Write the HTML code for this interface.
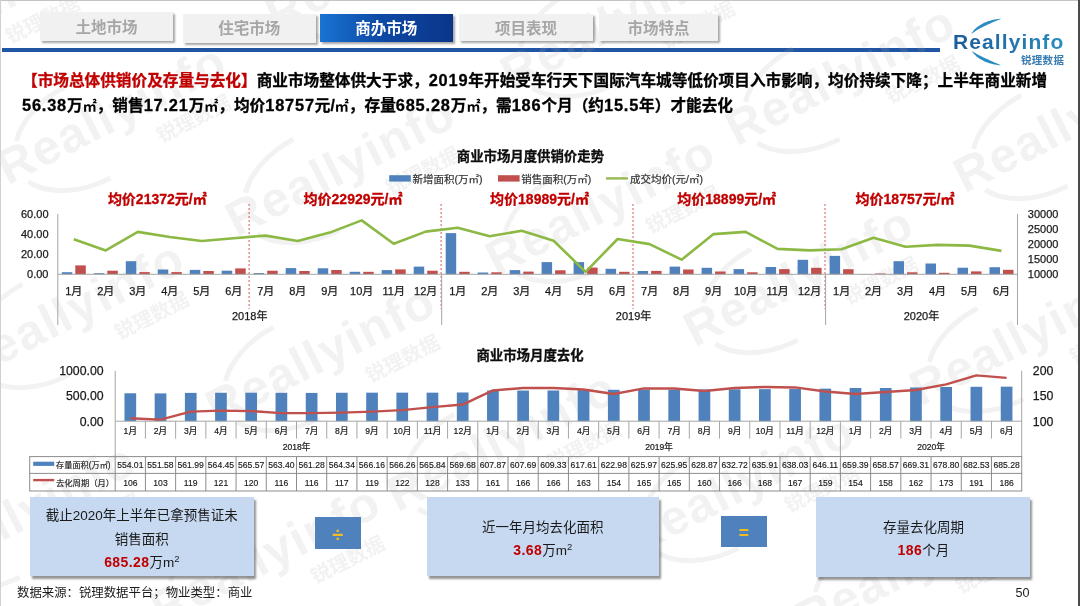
<!DOCTYPE html>
<html lang="zh-CN"><head><meta charset="utf-8"><title>商办市场</title>
<style>
*{margin:0;padding:0;box-sizing:border-box}
html,body{width:1080px;height:606px;overflow:hidden;background:#fff}
body{position:relative;font-family:"Liberation Sans","Noto Sans CJK SC",sans-serif;color:#000}
.abs{position:absolute}
.frame-t{position:absolute;left:0;top:0;width:1080px;height:1px;background:#c4c4c4}
.frame-l{position:absolute;left:0;top:0;width:1px;height:606px;background:#d0d0d0}
.frame-r{position:absolute;left:1078px;top:0;width:2px;height:606px;background:#4a4a4a}
.tab{position:absolute;top:14px;height:27px;background:#f1f1f1;color:#a6a6a6;font-weight:bold;font-size:15.5px;line-height:27px;padding-top:1px;text-align:center;box-shadow:2px 2px 2px rgba(0,0,0,.35)}
.tab.on{background:linear-gradient(90deg,#1a73d2 0%,#0d4aa6 45%,#0a3588 100%);color:#fff}
.bar{position:absolute;left:2px;top:48px;width:938px;height:4px;background:#1f55a3}
.head{position:absolute;left:22px;top:68px;width:1050px;white-space:nowrap;font-size:15.65px;font-weight:bold;line-height:24.2px;color:#000;-webkit-text-stroke:0.3px currentColor}
.head .n{font-size:16.4px;letter-spacing:0.8px}
.head .m{font-size:14px;font-weight:bold;letter-spacing:0px;-webkit-text-stroke:0px}
.head .r{color:#c00000}
.box{position:absolute;background:#c6d9f1;box-shadow:2px 2.5px 2px rgba(0,0,0,.42);text-align:center;font-size:13.5px;color:#1a1a1a;line-height:24px}
.ln{position:absolute;left:0;right:0;height:20px;line-height:20px;white-space:nowrap}
.sp{font-size:9.5px;position:relative;top:-5px}
.box b{color:#c00000;font-size:14px;letter-spacing:0.4px}
.op{position:absolute;background:#4f81bd;color:#efbd22;text-align:center;font-size:18px;font-weight:bold;line-height:31px}
.src{position:absolute;left:17px;top:583px;font-size:12.4px;color:#1a1a1a;white-space:nowrap}
.pg{position:absolute;left:1015.5px;top:586px;font-size:12.6px;color:#1a1a1a}
svg text{font-family:"Liberation Sans","Noto Sans CJK SC",sans-serif}
.ct{font-size:13.4px;font-weight:bold;fill:#0d0d0d;stroke:#0d0d0d;stroke-width:0.3px}
.lg{font-size:10.5px;fill:#333;stroke:#333;stroke-width:0.2px}
.avg{font-size:14px;font-weight:bold;fill:#c00000;stroke:#c00000;stroke-width:0.3px}
.ax{font-size:11px;fill:#1a1a1a;stroke:#1a1a1a;stroke-width:0.25px}
.ax2{font-size:12.3px;fill:#1a1a1a;stroke:#1a1a1a;stroke-width:0.25px}
.sm{font-size:8.6px;fill:#1a1a1a;stroke:#1a1a1a;stroke-width:0.2px}
.tb{font-size:8.6px;fill:#1a1a1a;stroke:#1a1a1a;stroke-width:0.15px}
.wm1{font-size:49px;letter-spacing:1.6px;font-weight:bold;fill:rgba(170,170,170,0.155);font-family:'Liberation Sans',sans-serif}
.wm2{font-size:20px;font-weight:bold;fill:rgba(170,170,170,0.155)}
.wma{fill:none;stroke:rgba(170,170,170,0.155);stroke-width:5}
</style></head><body>
<div class="bar"></div>
<svg class="abs" style="left:0;top:0" width="1080" height="606">
<g transform="translate(276.8,32.6) rotate(-27)"><text x="0" y="0" class="wm1">Reallyinfo</text><text x="156" y="32" class="wm2">锐理数据</text><path d="M28,-36 A80,52 0 0 1 95,-62" class="wma"/><path d="M20,6 A80,52 0 0 0 95,40" class="wma"/></g>
<g transform="translate(511.8,91.6) rotate(-27)"><text x="0" y="0" class="wm1">Reallyinfo</text><text x="156" y="32" class="wm2">锐理数据</text><path d="M28,-36 A80,52 0 0 1 95,-62" class="wma"/><path d="M20,6 A80,52 0 0 0 95,40" class="wma"/></g>
<g transform="translate(736.8,146.6) rotate(-27)"><text x="0" y="0" class="wm1">Reallyinfo</text><text x="156" y="32" class="wm2">锐理数据</text><path d="M28,-36 A80,52 0 0 1 95,-62" class="wma"/><path d="M20,6 A80,52 0 0 0 95,40" class="wma"/></g>
<g transform="translate(964.8,193.6) rotate(-27)"><text x="0" y="0" class="wm1">Reallyinfo</text><text x="156" y="32" class="wm2">锐理数据</text><path d="M28,-36 A80,52 0 0 1 95,-62" class="wma"/><path d="M20,6 A80,52 0 0 0 95,40" class="wma"/></g>
<g transform="translate(-143.2,86.6) rotate(-27)"><text x="0" y="0" class="wm1">Reallyinfo</text><text x="156" y="32" class="wm2">锐理数据</text><path d="M28,-36 A80,52 0 0 1 95,-62" class="wma"/><path d="M20,6 A80,52 0 0 0 95,40" class="wma"/></g>
<g transform="translate(7.8,185.6) rotate(-27)"><text x="0" y="0" class="wm1">Reallyinfo</text><text x="156" y="32" class="wm2">锐理数据</text><path d="M28,-36 A80,52 0 0 1 95,-62" class="wma"/><path d="M20,6 A80,52 0 0 0 95,40" class="wma"/></g>
<g transform="translate(236.8,237.6) rotate(-27)"><text x="0" y="0" class="wm1">Reallyinfo</text><text x="156" y="32" class="wm2">锐理数据</text><path d="M28,-36 A80,52 0 0 1 95,-62" class="wma"/><path d="M20,6 A80,52 0 0 0 95,40" class="wma"/></g>
<g transform="translate(496.8,276.6) rotate(-27)"><text x="0" y="0" class="wm1">Reallyinfo</text><text x="156" y="32" class="wm2">锐理数据</text><path d="M28,-36 A80,52 0 0 1 95,-62" class="wma"/><path d="M20,6 A80,52 0 0 0 95,40" class="wma"/></g>
<g transform="translate(694.8,347.6) rotate(-27)"><text x="0" y="0" class="wm1">Reallyinfo</text><text x="156" y="32" class="wm2">锐理数据</text><path d="M28,-36 A80,52 0 0 1 95,-62" class="wma"/><path d="M20,6 A80,52 0 0 0 95,40" class="wma"/></g>
<g transform="translate(920.8,406.6) rotate(-27)"><text x="0" y="0" class="wm1">Reallyinfo</text><text x="156" y="32" class="wm2">锐理数据</text><path d="M28,-36 A80,52 0 0 1 95,-62" class="wma"/><path d="M20,6 A80,52 0 0 0 95,40" class="wma"/></g>
<g transform="translate(-34.2,382.6) rotate(-27)"><text x="0" y="0" class="wm1">Reallyinfo</text><text x="156" y="32" class="wm2">锐理数据</text><path d="M28,-36 A80,52 0 0 1 95,-62" class="wma"/><path d="M20,6 A80,52 0 0 0 95,40" class="wma"/></g>
<g transform="translate(216.8,425.6) rotate(-27)"><text x="0" y="0" class="wm1">Reallyinfo</text><text x="156" y="32" class="wm2">锐理数据</text><path d="M28,-36 A80,52 0 0 1 95,-62" class="wma"/><path d="M20,6 A80,52 0 0 0 95,40" class="wma"/></g>
<g transform="translate(397.8,512.6) rotate(-27)"><text x="0" y="0" class="wm1">Reallyinfo</text><text x="156" y="32" class="wm2">锐理数据</text><path d="M28,-36 A80,52 0 0 1 95,-62" class="wma"/><path d="M20,6 A80,52 0 0 0 95,40" class="wma"/></g>
<g transform="translate(635.8,555.6) rotate(-27)"><text x="0" y="0" class="wm1">Reallyinfo</text><text x="156" y="32" class="wm2">锐理数据</text><path d="M28,-36 A80,52 0 0 1 95,-62" class="wma"/><path d="M20,6 A80,52 0 0 0 95,40" class="wma"/></g>
<g transform="translate(806.8,636.6) rotate(-27)"><text x="0" y="0" class="wm1">Reallyinfo</text><text x="156" y="32" class="wm2">锐理数据</text><path d="M28,-36 A80,52 0 0 1 95,-62" class="wma"/><path d="M20,6 A80,52 0 0 0 95,40" class="wma"/></g>
<g transform="translate(-83.2,584.6) rotate(-27)"><text x="0" y="0" class="wm1">Reallyinfo</text><text x="156" y="32" class="wm2">锐理数据</text><path d="M28,-36 A80,52 0 0 1 95,-62" class="wma"/><path d="M20,6 A80,52 0 0 0 95,40" class="wma"/></g>
<g transform="translate(161.8,626.6) rotate(-27)"><text x="0" y="0" class="wm1">Reallyinfo</text><text x="156" y="32" class="wm2">锐理数据</text><path d="M28,-36 A80,52 0 0 1 95,-62" class="wma"/><path d="M20,6 A80,52 0 0 0 95,40" class="wma"/></g>
</svg>
<div class="frame-t"></div><div class="frame-l"></div><div class="frame-r"></div>
<div class="tab" style="left:40px;width:133px;top:12px;height:29px;line-height:30px">土地市场</div>
<div class="tab" style="left:182.5px;width:133.5px;top:14px;height:29px;line-height:28px">住宅市场</div>
<div class="tab on" style="left:320px;width:132.5px;top:14px;height:28px;line-height:28px">商办市场</div>
<div class="tab" style="left:459px;width:134px">项目表现</div>
<div class="tab" style="left:599px;width:119px">市场特点</div>
<div class="abs" style="left:953px;top:30px;font-size:21px;line-height:24px;font-weight:bold;letter-spacing:1.1px;font-family:'Liberation Sans',sans-serif;background:linear-gradient(90deg,#1c5c98 0%,#2270ab 45%,#2a8dbf 100%);-webkit-background-clip:text;background-clip:text;color:transparent">Reallyinfo</div>
<div class="abs" style="left:1021px;top:51.5px;font-size:10.5px;font-weight:bold;color:#3a7db3;letter-spacing:0.3px">锐理数据</div>
<svg class="abs" style="left:0;top:0" width="1080" height="80"><path d="M971.17,33.96 L971.78,32.94 L972.46,31.94 L973.21,30.97 L974.03,30.01 L974.92,29.09 L975.88,28.19 L976.89,27.32 L977.97,26.48 L979.10,25.68 L980.30,24.91 L981.54,24.17 L982.84,23.48 L984.18,22.83 L985.57,22.22 L987.00,21.65 L988.47,21.12 L989.98,20.64 L991.51,20.21 L993.08,19.83 L994.68,19.49 L996.29,19.20 L997.93,18.96 L999.58,18.77 L1001.24,18.63 L1001.24,18.63 L999.67,19.39 L998.14,20.02 L996.65,20.64 L995.20,21.25 L993.79,21.86 L992.42,22.46 L991.09,23.06 L989.78,23.66 L988.50,24.25 L987.25,24.84 L986.02,25.42 L984.81,26.00 L983.61,26.59 L982.43,27.17 L981.26,27.76 L980.11,28.36 L978.97,28.98 L977.84,29.61 L976.72,30.27 L975.62,30.95 L974.52,31.66 L973.44,32.41 L972.36,33.19 L971.17,33.96 Z" fill="#2a8cc0"/><path d="M1000.92,65.35 L999.34,65.21 L997.77,65.02 L996.21,64.79 L994.68,64.51 L993.16,64.19 L991.66,63.83 L990.19,63.42 L988.75,62.97 L987.34,62.48 L985.97,61.95 L984.63,61.38 L983.33,60.77 L982.08,60.12 L980.87,59.44 L979.71,58.73 L978.60,57.98 L977.54,57.20 L976.54,56.39 L975.59,55.55 L974.69,54.68 L973.86,53.79 L973.09,52.88 L972.38,51.95 L971.74,50.99 L971.74,50.99 L972.95,51.68 L974.05,52.38 L975.15,53.05 L976.24,53.69 L977.34,54.31 L978.45,54.90 L979.57,55.48 L980.69,56.04 L981.82,56.59 L982.96,57.13 L984.10,57.67 L985.26,58.21 L986.43,58.76 L987.61,59.31 L988.81,59.86 L990.04,60.42 L991.28,61.00 L992.56,61.57 L993.86,62.16 L995.20,62.75 L996.58,63.35 L997.99,63.96 L999.44,64.59 L1000.92,65.35 Z" fill="#2a8cc0"/></svg>
<div class="head"><span class="r">【市场总体供销价及存量与去化】</span>商业市场整体供大于求，<span class="n">2019</span>年开始受车行天下国际汽车城等低价项目入市影响，均价持续下降；上半年商业新增<br><span class="n">56.38</span>万<span class="m">㎡</span>，销售<span class="n">17.21</span>万<span class="m">㎡</span>，均价<span class="n">18757</span>元/<span class="m">㎡</span>，存量<span class="n">685.28</span>万<span class="m">㎡</span>，需<span class="n">186</span>个月（约<span class="n">15.5</span>年）才能去化</div>
<svg class="abs" style="left:0;top:0" width="1080" height="606">
<text x="530.4" y="160.5" class="ct" text-anchor="middle">商业市场月度供销价走势</text>
<rect x="389.2" y="175.2" width="21.6" height="6.4" fill="#4f81bd"/>
<text x="412.5" y="182.5" class="lg">新增面积(万㎡)</text>
<rect x="498" y="175.2" width="21.6" height="6.4" fill="#c0504d"/>
<text x="521.3" y="182.5" class="lg">销售面积(万㎡)</text>
<line x1="606" y1="178.4" x2="628" y2="178.4" stroke="#9bbb59" stroke-width="2.5"/>
<text x="630" y="182.5" class="lg">成交均价(元/㎡)</text>
<text x="157.3" y="203.8" class="avg" text-anchor="middle">均价21372元/㎡</text>
<text x="353" y="203.8" class="avg" text-anchor="middle">均价22929元/㎡</text>
<text x="539.5" y="203.8" class="avg" text-anchor="middle">均价18989元/㎡</text>
<text x="726.7" y="203.8" class="avg" text-anchor="middle">均价18899元/㎡</text>
<text x="905" y="203.8" class="avg" text-anchor="middle">均价18757元/㎡</text>
<line x1="249.1" y1="204" x2="249.1" y2="309" stroke="#d65a5a" stroke-width="1" stroke-dasharray="2,2"/>
<line x1="441.1" y1="204" x2="441.1" y2="309" stroke="#d65a5a" stroke-width="1" stroke-dasharray="2,2"/>
<line x1="633.0" y1="204" x2="633.0" y2="309" stroke="#d65a5a" stroke-width="1" stroke-dasharray="2,2"/>
<line x1="825.0" y1="204" x2="825.0" y2="309" stroke="#d65a5a" stroke-width="1" stroke-dasharray="2,2"/>
<line x1="57.8" y1="214.0" x2="57.8" y2="325" stroke="#a6a6a6" stroke-width="1"/>
<line x1="1017.5" y1="214.0" x2="1017.5" y2="325" stroke="#a6a6a6" stroke-width="1"/>
<line x1="441.7" y1="274.3" x2="441.7" y2="325" stroke="#a6a6a6" stroke-width="1"/>
<line x1="825.6" y1="274.3" x2="825.6" y2="325" stroke="#a6a6a6" stroke-width="1"/>
<rect x="61.8" y="272.2" width="10.5" height="2.1" fill="#4f81bd"/>
<rect x="75.3" y="265.4" width="10.5" height="8.9" fill="#c0504d"/>
<rect x="93.8" y="273.2" width="10.5" height="1.1" fill="#4f81bd"/>
<rect x="107.3" y="270.7" width="10.5" height="3.6" fill="#c0504d"/>
<rect x="125.8" y="261.2" width="10.5" height="13.1" fill="#4f81bd"/>
<rect x="139.3" y="272.1" width="10.5" height="2.2" fill="#c0504d"/>
<rect x="157.8" y="269.5" width="10.5" height="4.8" fill="#4f81bd"/>
<rect x="171.3" y="272.1" width="10.5" height="2.2" fill="#c0504d"/>
<rect x="189.8" y="269.9" width="10.5" height="4.4" fill="#4f81bd"/>
<rect x="203.3" y="271.0" width="10.5" height="3.3" fill="#c0504d"/>
<rect x="221.7" y="270.7" width="10.5" height="3.6" fill="#4f81bd"/>
<rect x="235.2" y="268.4" width="10.5" height="5.9" fill="#c0504d"/>
<rect x="253.7" y="273.1" width="10.5" height="1.2" fill="#4f81bd"/>
<rect x="267.2" y="270.7" width="10.5" height="3.6" fill="#c0504d"/>
<rect x="285.7" y="268.1" width="10.5" height="6.2" fill="#4f81bd"/>
<rect x="299.2" y="271.0" width="10.5" height="3.3" fill="#c0504d"/>
<rect x="317.7" y="268.3" width="10.5" height="6.0" fill="#4f81bd"/>
<rect x="331.2" y="270.0" width="10.5" height="4.3" fill="#c0504d"/>
<rect x="349.7" y="271.8" width="10.5" height="2.5" fill="#4f81bd"/>
<rect x="363.2" y="271.8" width="10.5" height="2.5" fill="#c0504d"/>
<rect x="381.7" y="270.1" width="10.5" height="4.2" fill="#4f81bd"/>
<rect x="395.2" y="269.4" width="10.5" height="4.9" fill="#c0504d"/>
<rect x="413.7" y="266.6" width="10.5" height="7.7" fill="#4f81bd"/>
<rect x="427.2" y="270.7" width="10.5" height="3.6" fill="#c0504d"/>
<rect x="445.7" y="233.1" width="10.5" height="41.2" fill="#4f81bd"/>
<rect x="459.2" y="271.8" width="10.5" height="2.5" fill="#c0504d"/>
<rect x="477.7" y="272.5" width="10.5" height="1.8" fill="#4f81bd"/>
<rect x="491.2" y="272.3" width="10.5" height="2.0" fill="#c0504d"/>
<rect x="509.7" y="270.1" width="10.5" height="4.2" fill="#4f81bd"/>
<rect x="523.2" y="271.6" width="10.5" height="2.7" fill="#c0504d"/>
<rect x="541.6" y="262.1" width="10.5" height="12.2" fill="#4f81bd"/>
<rect x="555.1" y="270.3" width="10.5" height="4.0" fill="#c0504d"/>
<rect x="573.6" y="262.1" width="10.5" height="12.2" fill="#4f81bd"/>
<rect x="587.1" y="267.6" width="10.5" height="6.7" fill="#c0504d"/>
<rect x="605.6" y="268.8" width="10.5" height="5.5" fill="#4f81bd"/>
<rect x="619.1" y="271.8" width="10.5" height="2.5" fill="#c0504d"/>
<rect x="637.6" y="271.0" width="10.5" height="3.3" fill="#4f81bd"/>
<rect x="651.1" y="270.9" width="10.5" height="3.4" fill="#c0504d"/>
<rect x="669.6" y="266.6" width="10.5" height="7.7" fill="#4f81bd"/>
<rect x="683.1" y="269.5" width="10.5" height="4.8" fill="#c0504d"/>
<rect x="701.6" y="267.8" width="10.5" height="6.5" fill="#4f81bd"/>
<rect x="715.1" y="271.5" width="10.5" height="2.8" fill="#c0504d"/>
<rect x="733.6" y="269.1" width="10.5" height="5.2" fill="#4f81bd"/>
<rect x="747.1" y="272.3" width="10.5" height="2.0" fill="#c0504d"/>
<rect x="765.6" y="267.0" width="10.5" height="7.3" fill="#4f81bd"/>
<rect x="779.1" y="269.1" width="10.5" height="5.2" fill="#c0504d"/>
<rect x="797.6" y="259.8" width="10.5" height="14.5" fill="#4f81bd"/>
<rect x="811.1" y="267.8" width="10.5" height="6.5" fill="#c0504d"/>
<rect x="829.6" y="255.9" width="10.5" height="18.4" fill="#4f81bd"/>
<rect x="843.1" y="269.2" width="10.5" height="5.1" fill="#c0504d"/>
<rect x="861.5" y="274.0" width="10.5" height="0.3" fill="#4f81bd"/>
<rect x="875.0" y="273.5" width="10.5" height="0.8" fill="#c0504d"/>
<rect x="893.5" y="261.2" width="10.5" height="13.1" fill="#4f81bd"/>
<rect x="907.0" y="272.3" width="10.5" height="2.0" fill="#c0504d"/>
<rect x="925.5" y="263.5" width="10.5" height="10.8" fill="#4f81bd"/>
<rect x="939.0" y="272.8" width="10.5" height="1.5" fill="#c0504d"/>
<rect x="957.5" y="267.7" width="10.5" height="6.6" fill="#4f81bd"/>
<rect x="971.0" y="271.4" width="10.5" height="2.9" fill="#c0504d"/>
<rect x="989.5" y="267.2" width="10.5" height="7.1" fill="#4f81bd"/>
<rect x="1003.0" y="269.8" width="10.5" height="4.5" fill="#c0504d"/>
<line x1="57.8" y1="274.3" x2="1017.5" y2="274.3" stroke="#a6a6a6" stroke-width="1"/>
<polyline points="73.8,239.3 105.8,250.4 137.8,231.9 169.8,237.0 201.8,241.0 233.7,238.2 265.7,235.6 297.7,241.0 329.7,232.6 361.7,220.4 393.7,243.7 425.7,231.6 457.7,227.7 489.7,236.3 521.7,230.7 553.6,240.7 585.6,271.9 617.6,239.0 649.6,244.1 681.6,259.7 713.6,234.1 745.6,231.9 777.6,248.9 809.6,250.4 841.6,249.3 873.5,237.8 905.5,246.8 937.5,244.9 969.5,245.6 1001.5,250.9" fill="none" stroke="#8cb844" stroke-width="2.6" stroke-linejoin="round"/>
<text x="48.5" y="218.0" class="ax" text-anchor="end">60.00</text>
<text x="48.5" y="238.1" class="ax" text-anchor="end">40.00</text>
<text x="48.5" y="258.2" class="ax" text-anchor="end">20.00</text>
<text x="48.5" y="278.3" class="ax" text-anchor="end">0.00</text>
<text x="1027.8" y="218.0" class="ax">30000</text>
<text x="1027.8" y="233.1" class="ax">25000</text>
<text x="1027.8" y="248.2" class="ax">20000</text>
<text x="1027.8" y="263.2" class="ax">15000</text>
<text x="1027.8" y="278.3" class="ax">10000</text>
<text x="73.8" y="295.2" class="ax" text-anchor="middle">1月</text>
<text x="105.8" y="295.2" class="ax" text-anchor="middle">2月</text>
<text x="137.8" y="295.2" class="ax" text-anchor="middle">3月</text>
<text x="169.8" y="295.2" class="ax" text-anchor="middle">4月</text>
<text x="201.8" y="295.2" class="ax" text-anchor="middle">5月</text>
<text x="233.7" y="295.2" class="ax" text-anchor="middle">6月</text>
<text x="265.7" y="295.2" class="ax" text-anchor="middle">7月</text>
<text x="297.7" y="295.2" class="ax" text-anchor="middle">8月</text>
<text x="329.7" y="295.2" class="ax" text-anchor="middle">9月</text>
<text x="361.7" y="295.2" class="ax" text-anchor="middle">10月</text>
<text x="393.7" y="295.2" class="ax" text-anchor="middle">11月</text>
<text x="425.7" y="295.2" class="ax" text-anchor="middle">12月</text>
<text x="457.7" y="295.2" class="ax" text-anchor="middle">1月</text>
<text x="489.7" y="295.2" class="ax" text-anchor="middle">2月</text>
<text x="521.7" y="295.2" class="ax" text-anchor="middle">3月</text>
<text x="553.6" y="295.2" class="ax" text-anchor="middle">4月</text>
<text x="585.6" y="295.2" class="ax" text-anchor="middle">5月</text>
<text x="617.6" y="295.2" class="ax" text-anchor="middle">6月</text>
<text x="649.6" y="295.2" class="ax" text-anchor="middle">7月</text>
<text x="681.6" y="295.2" class="ax" text-anchor="middle">8月</text>
<text x="713.6" y="295.2" class="ax" text-anchor="middle">9月</text>
<text x="745.6" y="295.2" class="ax" text-anchor="middle">10月</text>
<text x="777.6" y="295.2" class="ax" text-anchor="middle">11月</text>
<text x="809.6" y="295.2" class="ax" text-anchor="middle">12月</text>
<text x="841.6" y="295.2" class="ax" text-anchor="middle">1月</text>
<text x="873.5" y="295.2" class="ax" text-anchor="middle">2月</text>
<text x="905.5" y="295.2" class="ax" text-anchor="middle">3月</text>
<text x="937.5" y="295.2" class="ax" text-anchor="middle">4月</text>
<text x="969.5" y="295.2" class="ax" text-anchor="middle">5月</text>
<text x="1001.5" y="295.2" class="ax" text-anchor="middle">6月</text>
<text x="249.7" y="319.7" class="ax" text-anchor="middle">2018年</text>
<text x="633.6" y="319.7" class="ax" text-anchor="middle">2019年</text>
<text x="921.5" y="319.7" class="ax" text-anchor="middle">2020年</text>
<text x="530" y="360.3" class="ct" text-anchor="middle">商业市场月度去化</text>
<rect x="124.46" y="393.28" width="11.7" height="27.92" fill="#4f81bd"/>
<rect x="154.68" y="393.40" width="11.7" height="27.80" fill="#4f81bd"/>
<rect x="184.89" y="392.88" width="11.7" height="28.32" fill="#4f81bd"/>
<rect x="215.11" y="392.75" width="11.7" height="28.45" fill="#4f81bd"/>
<rect x="245.33" y="392.70" width="11.7" height="28.50" fill="#4f81bd"/>
<rect x="275.54" y="392.80" width="11.7" height="28.40" fill="#4f81bd"/>
<rect x="305.76" y="392.91" width="11.7" height="28.29" fill="#4f81bd"/>
<rect x="335.97" y="392.76" width="11.7" height="28.44" fill="#4f81bd"/>
<rect x="366.19" y="392.67" width="11.7" height="28.53" fill="#4f81bd"/>
<rect x="396.41" y="392.66" width="11.7" height="28.54" fill="#4f81bd"/>
<rect x="426.62" y="392.68" width="11.7" height="28.52" fill="#4f81bd"/>
<rect x="456.84" y="392.49" width="11.7" height="28.71" fill="#4f81bd"/>
<rect x="487.06" y="390.56" width="11.7" height="30.64" fill="#4f81bd"/>
<rect x="517.27" y="390.57" width="11.7" height="30.63" fill="#4f81bd"/>
<rect x="547.49" y="390.49" width="11.7" height="30.71" fill="#4f81bd"/>
<rect x="577.71" y="390.07" width="11.7" height="31.13" fill="#4f81bd"/>
<rect x="607.92" y="389.80" width="11.7" height="31.40" fill="#4f81bd"/>
<rect x="638.14" y="389.65" width="11.7" height="31.55" fill="#4f81bd"/>
<rect x="668.36" y="389.65" width="11.7" height="31.55" fill="#4f81bd"/>
<rect x="698.58" y="389.50" width="11.7" height="31.70" fill="#4f81bd"/>
<rect x="728.79" y="389.31" width="11.7" height="31.89" fill="#4f81bd"/>
<rect x="759.01" y="389.15" width="11.7" height="32.05" fill="#4f81bd"/>
<rect x="789.23" y="389.04" width="11.7" height="32.16" fill="#4f81bd"/>
<rect x="819.44" y="388.64" width="11.7" height="32.56" fill="#4f81bd"/>
<rect x="849.66" y="387.97" width="11.7" height="33.23" fill="#4f81bd"/>
<rect x="879.88" y="388.01" width="11.7" height="33.19" fill="#4f81bd"/>
<rect x="910.09" y="387.47" width="11.7" height="33.73" fill="#4f81bd"/>
<rect x="940.31" y="386.99" width="11.7" height="34.21" fill="#4f81bd"/>
<rect x="970.52" y="386.80" width="11.7" height="34.40" fill="#4f81bd"/>
<rect x="1000.74" y="386.66" width="11.7" height="34.54" fill="#4f81bd"/>
<path d="M130.31,418.18 L160.53,419.69 L190.74,411.62 L220.96,410.62 L251.18,411.12 L281.39,413.14 L311.61,413.14 L341.82,412.63 L372.04,411.62 L402.26,410.11 L432.47,407.09 L462.69,404.57 L492.91,390.46 L523.12,387.94 L553.34,387.94 L583.56,389.45 L613.77,393.98 L643.99,388.44 L674.21,388.44 L704.43,390.96 L734.64,387.94 L764.86,386.93 L795.08,387.43 L825.29,391.46 L855.51,393.98 L885.73,391.97 L915.94,389.95 L946.16,384.41 L976.38,375.34 L1006.59,377.86" fill="none" stroke="#c0504d" stroke-width="2.4" stroke-linejoin="round"/>
<line x1="115.2" y1="421.2" x2="1021.7" y2="421.2" stroke="#a6a6a6" stroke-width="1"/>
<line x1="115.2" y1="370.8" x2="115.2" y2="456.6" stroke="#a6a6a6" stroke-width="1"/>
<line x1="1021.7" y1="370.8" x2="1021.7" y2="456.6" stroke="#a6a6a6" stroke-width="1"/>
<line x1="145.42" y1="421.2" x2="145.42" y2="438.6" stroke="#a6a6a6" stroke-width="1"/>
<line x1="175.63" y1="421.2" x2="175.63" y2="438.6" stroke="#a6a6a6" stroke-width="1"/>
<line x1="205.85" y1="421.2" x2="205.85" y2="438.6" stroke="#a6a6a6" stroke-width="1"/>
<line x1="236.07" y1="421.2" x2="236.07" y2="438.6" stroke="#a6a6a6" stroke-width="1"/>
<line x1="266.28" y1="421.2" x2="266.28" y2="438.6" stroke="#a6a6a6" stroke-width="1"/>
<line x1="296.50" y1="421.2" x2="296.50" y2="438.6" stroke="#a6a6a6" stroke-width="1"/>
<line x1="326.72" y1="421.2" x2="326.72" y2="438.6" stroke="#a6a6a6" stroke-width="1"/>
<line x1="356.93" y1="421.2" x2="356.93" y2="438.6" stroke="#a6a6a6" stroke-width="1"/>
<line x1="387.15" y1="421.2" x2="387.15" y2="438.6" stroke="#a6a6a6" stroke-width="1"/>
<line x1="417.37" y1="421.2" x2="417.37" y2="438.6" stroke="#a6a6a6" stroke-width="1"/>
<line x1="447.58" y1="421.2" x2="447.58" y2="438.6" stroke="#a6a6a6" stroke-width="1"/>
<line x1="477.80" y1="421.2" x2="477.80" y2="456.6" stroke="#a6a6a6" stroke-width="1"/>
<line x1="508.02" y1="421.2" x2="508.02" y2="438.6" stroke="#a6a6a6" stroke-width="1"/>
<line x1="538.23" y1="421.2" x2="538.23" y2="438.6" stroke="#a6a6a6" stroke-width="1"/>
<line x1="568.45" y1="421.2" x2="568.45" y2="438.6" stroke="#a6a6a6" stroke-width="1"/>
<line x1="598.67" y1="421.2" x2="598.67" y2="438.6" stroke="#a6a6a6" stroke-width="1"/>
<line x1="628.88" y1="421.2" x2="628.88" y2="438.6" stroke="#a6a6a6" stroke-width="1"/>
<line x1="659.10" y1="421.2" x2="659.10" y2="438.6" stroke="#a6a6a6" stroke-width="1"/>
<line x1="689.32" y1="421.2" x2="689.32" y2="438.6" stroke="#a6a6a6" stroke-width="1"/>
<line x1="719.53" y1="421.2" x2="719.53" y2="438.6" stroke="#a6a6a6" stroke-width="1"/>
<line x1="749.75" y1="421.2" x2="749.75" y2="438.6" stroke="#a6a6a6" stroke-width="1"/>
<line x1="779.97" y1="421.2" x2="779.97" y2="438.6" stroke="#a6a6a6" stroke-width="1"/>
<line x1="810.18" y1="421.2" x2="810.18" y2="438.6" stroke="#a6a6a6" stroke-width="1"/>
<line x1="840.40" y1="421.2" x2="840.40" y2="456.6" stroke="#a6a6a6" stroke-width="1"/>
<line x1="870.62" y1="421.2" x2="870.62" y2="438.6" stroke="#a6a6a6" stroke-width="1"/>
<line x1="900.83" y1="421.2" x2="900.83" y2="438.6" stroke="#a6a6a6" stroke-width="1"/>
<line x1="931.05" y1="421.2" x2="931.05" y2="438.6" stroke="#a6a6a6" stroke-width="1"/>
<line x1="961.27" y1="421.2" x2="961.27" y2="438.6" stroke="#a6a6a6" stroke-width="1"/>
<line x1="991.48" y1="421.2" x2="991.48" y2="438.6" stroke="#a6a6a6" stroke-width="1"/>
<text x="103.6" y="375.2" class="ax2" text-anchor="end">1000.00</text>
<text x="103.6" y="400.4" class="ax2" text-anchor="end">500.00</text>
<text x="103.6" y="425.6" class="ax2" text-anchor="end">0.00</text>
<text x="1032.8" y="375.2" class="ax2">200</text>
<text x="1032.8" y="400.4" class="ax2">150</text>
<text x="1032.8" y="425.6" class="ax2">100</text>
<text x="130.3" y="433.9" class="sm" text-anchor="middle">1月</text>
<text x="160.5" y="433.9" class="sm" text-anchor="middle">2月</text>
<text x="190.7" y="433.9" class="sm" text-anchor="middle">3月</text>
<text x="221.0" y="433.9" class="sm" text-anchor="middle">4月</text>
<text x="251.2" y="433.9" class="sm" text-anchor="middle">5月</text>
<text x="281.4" y="433.9" class="sm" text-anchor="middle">6月</text>
<text x="311.6" y="433.9" class="sm" text-anchor="middle">7月</text>
<text x="341.8" y="433.9" class="sm" text-anchor="middle">8月</text>
<text x="372.0" y="433.9" class="sm" text-anchor="middle">9月</text>
<text x="402.3" y="433.9" class="sm" text-anchor="middle">10月</text>
<text x="432.5" y="433.9" class="sm" text-anchor="middle">11月</text>
<text x="462.7" y="433.9" class="sm" text-anchor="middle">12月</text>
<text x="492.9" y="433.9" class="sm" text-anchor="middle">1月</text>
<text x="523.1" y="433.9" class="sm" text-anchor="middle">2月</text>
<text x="553.3" y="433.9" class="sm" text-anchor="middle">3月</text>
<text x="583.6" y="433.9" class="sm" text-anchor="middle">4月</text>
<text x="613.8" y="433.9" class="sm" text-anchor="middle">5月</text>
<text x="644.0" y="433.9" class="sm" text-anchor="middle">6月</text>
<text x="674.2" y="433.9" class="sm" text-anchor="middle">7月</text>
<text x="704.4" y="433.9" class="sm" text-anchor="middle">8月</text>
<text x="734.6" y="433.9" class="sm" text-anchor="middle">9月</text>
<text x="764.9" y="433.9" class="sm" text-anchor="middle">10月</text>
<text x="795.1" y="433.9" class="sm" text-anchor="middle">11月</text>
<text x="825.3" y="433.9" class="sm" text-anchor="middle">12月</text>
<text x="855.5" y="433.9" class="sm" text-anchor="middle">1月</text>
<text x="885.7" y="433.9" class="sm" text-anchor="middle">2月</text>
<text x="915.9" y="433.9" class="sm" text-anchor="middle">3月</text>
<text x="946.2" y="433.9" class="sm" text-anchor="middle">4月</text>
<text x="976.4" y="433.9" class="sm" text-anchor="middle">5月</text>
<text x="1006.6" y="433.9" class="sm" text-anchor="middle">6月</text>
<text x="296.5" y="450.3" class="sm" text-anchor="middle">2018年</text>
<text x="659.1" y="450.3" class="sm" text-anchor="middle">2019年</text>
<text x="931.0" y="450.3" class="sm" text-anchor="middle">2020年</text>
<rect x="29.7" y="456.6" width="992.0" height="34.4" fill="none" stroke="#8c8c8c" stroke-width="1"/>
<line x1="29.7" y1="473.4" x2="1021.7" y2="473.4" stroke="#8c8c8c" stroke-width="1"/>
<line x1="115.20" y1="456.6" x2="115.20" y2="491.0" stroke="#8c8c8c" stroke-width="1"/>
<line x1="145.42" y1="456.6" x2="145.42" y2="491.0" stroke="#8c8c8c" stroke-width="1"/>
<line x1="175.63" y1="456.6" x2="175.63" y2="491.0" stroke="#8c8c8c" stroke-width="1"/>
<line x1="205.85" y1="456.6" x2="205.85" y2="491.0" stroke="#8c8c8c" stroke-width="1"/>
<line x1="236.07" y1="456.6" x2="236.07" y2="491.0" stroke="#8c8c8c" stroke-width="1"/>
<line x1="266.28" y1="456.6" x2="266.28" y2="491.0" stroke="#8c8c8c" stroke-width="1"/>
<line x1="296.50" y1="456.6" x2="296.50" y2="491.0" stroke="#8c8c8c" stroke-width="1"/>
<line x1="326.72" y1="456.6" x2="326.72" y2="491.0" stroke="#8c8c8c" stroke-width="1"/>
<line x1="356.93" y1="456.6" x2="356.93" y2="491.0" stroke="#8c8c8c" stroke-width="1"/>
<line x1="387.15" y1="456.6" x2="387.15" y2="491.0" stroke="#8c8c8c" stroke-width="1"/>
<line x1="417.37" y1="456.6" x2="417.37" y2="491.0" stroke="#8c8c8c" stroke-width="1"/>
<line x1="447.58" y1="456.6" x2="447.58" y2="491.0" stroke="#8c8c8c" stroke-width="1"/>
<line x1="477.80" y1="456.6" x2="477.80" y2="491.0" stroke="#8c8c8c" stroke-width="1"/>
<line x1="508.02" y1="456.6" x2="508.02" y2="491.0" stroke="#8c8c8c" stroke-width="1"/>
<line x1="538.23" y1="456.6" x2="538.23" y2="491.0" stroke="#8c8c8c" stroke-width="1"/>
<line x1="568.45" y1="456.6" x2="568.45" y2="491.0" stroke="#8c8c8c" stroke-width="1"/>
<line x1="598.67" y1="456.6" x2="598.67" y2="491.0" stroke="#8c8c8c" stroke-width="1"/>
<line x1="628.88" y1="456.6" x2="628.88" y2="491.0" stroke="#8c8c8c" stroke-width="1"/>
<line x1="659.10" y1="456.6" x2="659.10" y2="491.0" stroke="#8c8c8c" stroke-width="1"/>
<line x1="689.32" y1="456.6" x2="689.32" y2="491.0" stroke="#8c8c8c" stroke-width="1"/>
<line x1="719.53" y1="456.6" x2="719.53" y2="491.0" stroke="#8c8c8c" stroke-width="1"/>
<line x1="749.75" y1="456.6" x2="749.75" y2="491.0" stroke="#8c8c8c" stroke-width="1"/>
<line x1="779.97" y1="456.6" x2="779.97" y2="491.0" stroke="#8c8c8c" stroke-width="1"/>
<line x1="810.18" y1="456.6" x2="810.18" y2="491.0" stroke="#8c8c8c" stroke-width="1"/>
<line x1="840.40" y1="456.6" x2="840.40" y2="491.0" stroke="#8c8c8c" stroke-width="1"/>
<line x1="870.62" y1="456.6" x2="870.62" y2="491.0" stroke="#8c8c8c" stroke-width="1"/>
<line x1="900.83" y1="456.6" x2="900.83" y2="491.0" stroke="#8c8c8c" stroke-width="1"/>
<line x1="931.05" y1="456.6" x2="931.05" y2="491.0" stroke="#8c8c8c" stroke-width="1"/>
<line x1="961.27" y1="456.6" x2="961.27" y2="491.0" stroke="#8c8c8c" stroke-width="1"/>
<line x1="991.48" y1="456.6" x2="991.48" y2="491.0" stroke="#8c8c8c" stroke-width="1"/>
<rect x="33.2" y="461.7" width="21" height="4.2" fill="#4f81bd"/>
<text x="56" y="468.4" class="tb" style="font-size:8.2px">存量面积(万㎡)</text>
<line x1="33.2" y1="480.1" x2="54.2" y2="480.1" stroke="#c0504d" stroke-width="2.4"/>
<text x="56" y="485.6" class="tb" style="font-size:8.3px">去化周期（月）</text>
<text x="130.3" y="468.4" class="tb" text-anchor="middle">554.01</text>
<text x="130.3" y="485.6" class="tb" text-anchor="middle">106</text>
<text x="160.5" y="468.4" class="tb" text-anchor="middle">551.58</text>
<text x="160.5" y="485.6" class="tb" text-anchor="middle">103</text>
<text x="190.7" y="468.4" class="tb" text-anchor="middle">561.99</text>
<text x="190.7" y="485.6" class="tb" text-anchor="middle">119</text>
<text x="221.0" y="468.4" class="tb" text-anchor="middle">564.45</text>
<text x="221.0" y="485.6" class="tb" text-anchor="middle">121</text>
<text x="251.2" y="468.4" class="tb" text-anchor="middle">565.57</text>
<text x="251.2" y="485.6" class="tb" text-anchor="middle">120</text>
<text x="281.4" y="468.4" class="tb" text-anchor="middle">563.40</text>
<text x="281.4" y="485.6" class="tb" text-anchor="middle">116</text>
<text x="311.6" y="468.4" class="tb" text-anchor="middle">561.28</text>
<text x="311.6" y="485.6" class="tb" text-anchor="middle">116</text>
<text x="341.8" y="468.4" class="tb" text-anchor="middle">564.34</text>
<text x="341.8" y="485.6" class="tb" text-anchor="middle">117</text>
<text x="372.0" y="468.4" class="tb" text-anchor="middle">566.16</text>
<text x="372.0" y="485.6" class="tb" text-anchor="middle">119</text>
<text x="402.3" y="468.4" class="tb" text-anchor="middle">566.26</text>
<text x="402.3" y="485.6" class="tb" text-anchor="middle">122</text>
<text x="432.5" y="468.4" class="tb" text-anchor="middle">565.84</text>
<text x="432.5" y="485.6" class="tb" text-anchor="middle">128</text>
<text x="462.7" y="468.4" class="tb" text-anchor="middle">569.68</text>
<text x="462.7" y="485.6" class="tb" text-anchor="middle">133</text>
<text x="492.9" y="468.4" class="tb" text-anchor="middle">607.87</text>
<text x="492.9" y="485.6" class="tb" text-anchor="middle">161</text>
<text x="523.1" y="468.4" class="tb" text-anchor="middle">607.69</text>
<text x="523.1" y="485.6" class="tb" text-anchor="middle">166</text>
<text x="553.3" y="468.4" class="tb" text-anchor="middle">609.33</text>
<text x="553.3" y="485.6" class="tb" text-anchor="middle">166</text>
<text x="583.6" y="468.4" class="tb" text-anchor="middle">617.61</text>
<text x="583.6" y="485.6" class="tb" text-anchor="middle">163</text>
<text x="613.8" y="468.4" class="tb" text-anchor="middle">622.98</text>
<text x="613.8" y="485.6" class="tb" text-anchor="middle">154</text>
<text x="644.0" y="468.4" class="tb" text-anchor="middle">625.97</text>
<text x="644.0" y="485.6" class="tb" text-anchor="middle">165</text>
<text x="674.2" y="468.4" class="tb" text-anchor="middle">625.95</text>
<text x="674.2" y="485.6" class="tb" text-anchor="middle">165</text>
<text x="704.4" y="468.4" class="tb" text-anchor="middle">628.87</text>
<text x="704.4" y="485.6" class="tb" text-anchor="middle">160</text>
<text x="734.6" y="468.4" class="tb" text-anchor="middle">632.72</text>
<text x="734.6" y="485.6" class="tb" text-anchor="middle">166</text>
<text x="764.9" y="468.4" class="tb" text-anchor="middle">635.91</text>
<text x="764.9" y="485.6" class="tb" text-anchor="middle">168</text>
<text x="795.1" y="468.4" class="tb" text-anchor="middle">638.03</text>
<text x="795.1" y="485.6" class="tb" text-anchor="middle">167</text>
<text x="825.3" y="468.4" class="tb" text-anchor="middle">646.11</text>
<text x="825.3" y="485.6" class="tb" text-anchor="middle">159</text>
<text x="855.5" y="468.4" class="tb" text-anchor="middle">659.39</text>
<text x="855.5" y="485.6" class="tb" text-anchor="middle">154</text>
<text x="885.7" y="468.4" class="tb" text-anchor="middle">658.57</text>
<text x="885.7" y="485.6" class="tb" text-anchor="middle">158</text>
<text x="915.9" y="468.4" class="tb" text-anchor="middle">669.31</text>
<text x="915.9" y="485.6" class="tb" text-anchor="middle">162</text>
<text x="946.2" y="468.4" class="tb" text-anchor="middle">678.80</text>
<text x="946.2" y="485.6" class="tb" text-anchor="middle">173</text>
<text x="976.4" y="468.4" class="tb" text-anchor="middle">682.53</text>
<text x="976.4" y="485.6" class="tb" text-anchor="middle">191</text>
<text x="1006.6" y="468.4" class="tb" text-anchor="middle">685.28</text>
<text x="1006.6" y="485.6" class="tb" text-anchor="middle">186</text>
</svg>
<div class="box" style="left:30px;top:497px;width:223.6px;height:79.3px"><div class="ln" style="top:8.5px">截止2020年上半年已拿预售证未</div><div class="ln" style="top:32.5px">销售面积</div><div class="ln" style="top:55px"><b>685.28</b>万m<span class="sp">2</span></div></div>
<div class="op" style="left:315px;top:517.3px;width:45.5px;height:31.6px;font-size:20px;padding-top:2.5px">÷</div>
<div class="box" style="left:426.5px;top:496.5px;width:232.5px;height:79.5px"><div class="ln" style="top:21.5px">近一年月均去化面积</div><div class="ln" style="top:43px"><b>3.68</b>万m<span class="sp">2</span></div></div>
<div class="op" style="left:721px;top:516px;width:45.6px;height:31px;font-size:17.5px;padding-top:2px">=</div>
<div class="box" style="left:816.4px;top:496.5px;width:214px;height:80px"><div class="ln" style="top:21.5px">存量去化周期</div><div class="ln" style="top:43px"><b>186</b>个月</div></div>
<div class="src">数据来源：锐理数据平台；物业类型：商业</div>
<div class="pg">50</div>
</body></html>
